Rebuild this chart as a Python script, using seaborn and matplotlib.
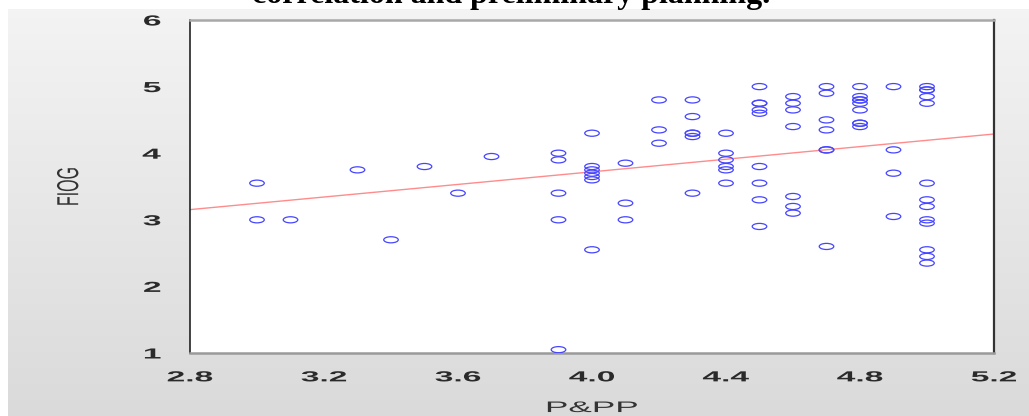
import numpy as np
import pandas as pd
import seaborn as sns
import matplotlib.pyplot as plt
from matplotlib.path import Path
from matplotlib.transforms import Affine2D
from matplotlib.patheffects import AbstractPathEffect

# P&PP score (x) and FIOG score (y)
# (darker, overlapping rings are counted twice)
pp = [3.0, 3.0,
      3.1, 3.3, 3.4, 3.5, 3.6, 3.7,
      3.9, 3.9, 3.9, 3.9, 3.9,
      4.0, 4.0, 4.0, 4.0, 4.0, 4.0, 4.0,
      4.1, 4.1, 4.1,
      4.2, 4.2, 4.2,
      4.3, 4.3, 4.3, 4.3, 4.3, 4.3,
      4.4, 4.4, 4.4, 4.4, 4.4, 4.4,
      4.5, 4.5, 4.5, 4.5, 4.5, 4.5, 4.5, 4.5, 4.5,
      4.6, 4.6, 4.6, 4.6, 4.6, 4.6, 4.6,
      4.7, 4.7, 4.7, 4.7, 4.7, 4.7, 4.7,
      4.8, 4.8, 4.8, 4.8, 4.8, 4.8, 4.8, 4.8, 4.8,
      4.9, 4.9, 4.9, 4.9,
      5.0, 5.0, 5.0, 5.0, 5.0, 5.0, 5.0, 5.0, 5.0, 5.0, 5.0, 5.0, 5.0]
fiog = [3.55, 3.0,
        3.0, 3.75, 2.7, 3.8, 3.4, 3.95,
        4.0, 3.9, 3.4, 3.0, 1.05,
        4.3, 3.8, 3.75, 3.7, 3.65, 3.6, 2.55,
        3.85, 3.25, 3.0,
        4.8, 4.35, 4.15,
        4.8, 4.55, 4.3, 4.3, 4.25, 3.4,
        4.3, 4.0, 3.9, 3.8, 3.75, 3.55,
        5.0, 4.75, 4.75, 4.65, 4.6, 3.8, 3.55, 3.3, 2.9,
        4.85, 4.75, 4.65, 4.4, 3.35, 3.2, 3.1,
        5.0, 4.9, 4.5, 4.35, 4.05, 4.05, 2.6,
        5.0, 4.85, 4.8, 4.8, 4.75, 4.65, 4.45, 4.45, 4.4,
        5.0, 4.05, 3.7, 3.05,
        5.0, 4.95, 4.95, 4.85, 4.75, 3.55, 3.3, 3.2, 3.0, 2.95, 2.55, 2.45, 2.35]

x_ticks = [2.8, 3.2, 3.6, 4.0, 4.4, 4.8, 5.2]
y_ticks = [1, 2, 3, 4, 5, 6]


class Stretch(AbstractPathEffect):
    # the source picture was stretched sideways, so stretch the glyphs too
    def __init__(self, sx=1.0, sy=1.0, anchor=0.5):
        super().__init__()
        self.sx, self.sy, self.anchor = sx, sy, anchor

    def draw_path(self, renderer, gc, tpath, affine, rgbFace=None):
        bb = tpath.get_extents()
        px = bb.x0 + self.anchor * bb.width
        py = bb.y0 + 0.5 * bb.height
        st = Affine2D().translate(-px, -py).scale(self.sx, self.sy).translate(px, py)
        renderer.draw_path(gc, tpath, st + affine, rgbFace)


df = pd.DataFrame({'P&PP': pp, 'FIOG': fiog})

sns.set_theme(style='white')
plt.rcParams['font.family'] = ['Liberation Sans', 'DejaVu Sans']

fig = plt.figure(figsize=(10.29, 4.16), dpi=100)
fig.patch.set_facecolor('white')

# grey gradient panel behind the chart
bg = fig.add_axes([8 / 1029, 0, 1 - 8 / 1029, 1 - 9 / 416], zorder=0)
shade = np.linspace(0.955, 0.855, 256)
grad = np.dstack([shade, shade, shade]).reshape(-1, 1, 3)
bg.imshow(grad, aspect='auto', extent=[0, 1, 0, 1], origin='upper')
bg.axis('off')

ax = fig.add_axes([190 / 1029, 1 - 353 / 416, 804 / 1029, 333 / 416], zorder=1)
ax.set_facecolor('white')
ax.set_xlim(2.8, 5.2)
ax.set_ylim(1, 6)

ell = Path.unit_circle()
ell = Path(ell.vertices * [1.0, 0.42], ell.codes)

sns.regplot(data=df, x='P&PP', y='FIOG', ax=ax, ci=None, truncate=False,
            marker=ell,
            scatter_kws={'s': 110, 'facecolors': 'none', 'edgecolors': '#4646ff',
                         'linewidths': 0.9, 'alpha': 1, 'zorder': 3},
            line_kws={'color': '#ff8c8c', 'linewidth': 1.0, 'zorder': 2})

ax.set_xticks(x_ticks)
ax.set_xticklabels([f'{v:.1f}' for v in x_ticks])
ax.set_yticks(y_ticks)
ax.set_yticklabels([str(v) for v in y_ticks])

ax.tick_params(axis='x', direction='out', length=4.5, width=1.3, color='#111111',
               pad=8, labelsize=10.5, labelcolor='#2a2a2a')
ax.tick_params(axis='y', direction='out', length=11, width=1.3, color='#8a8a8a',
               pad=10, labelsize=10.5, labelcolor='#2a2a2a')
for lab in ax.get_xticklabels():
    lab.set_fontweight('bold')
    lab.set_path_effects([Stretch(sx=2.3)])
for lab in ax.get_yticklabels():
    lab.set_fontweight('bold')
    lab.set_path_effects([Stretch(sx=2.3, anchor=1.0)])

ax.spines['left'].set_color('#111111')
ax.spines['left'].set_linewidth(1.1)
ax.spines['right'].set_color('#333333')
ax.spines['right'].set_linewidth(1.6)
ax.spines['top'].set_color('#a8a8a8')
ax.spines['top'].set_linewidth(1.8)
ax.spines['bottom'].set_color('#9a9a9a')
ax.spines['bottom'].set_linewidth(1.8)

ax.set_xlabel('P&PP', fontsize=11, color='#333333', labelpad=12)
ax.xaxis.label.set_path_effects([Stretch(sx=2.3)])
ax.set_ylabel('FIOG', fontsize=11.5, color='#333333', labelpad=55)
ax.yaxis.label.set_path_effects([Stretch(sy=1.9)])

# caption line of the page above the chart, only its lower part is visible
fig.text(511 / 1029, 1 - 3 / 416, 'correlation and preliminary planning.',
         family=['Liberation Serif', 'DejaVu Serif'], fontweight='bold',
         fontsize=23, ha='center', va='baseline', color='black')

fig.savefig('out.png', dpi=100)
